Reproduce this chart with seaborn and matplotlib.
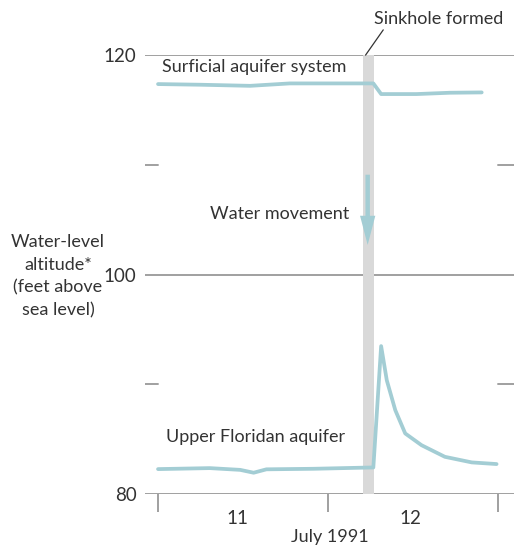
import matplotlib
matplotlib.use("Agg")
import matplotlib.pyplot as plt
import pandas as pd
import seaborn as sns

# horas desde el inicio del 11 de julio de 1991
surf_horas = [0, 6, 13, 18.6, 25, 30.4, 31.5, 36.5, 41.2, 45.7]
surf_nivel = [117.36, 117.3, 117.2, 117.42, 117.42, 117.42, 116.45, 116.45, 116.57, 116.6]

flor_horas = [0, 7.3, 11.6, 13.5, 15.3, 22, 28.9, 30.4, 31.5, 32.3, 33.5, 34.9, 37.2, 40.5, 44.3, 47.8]
flor_nivel = [82.27, 82.36, 82.2, 81.94, 82.25, 82.3, 82.4, 82.42, 93.48, 90.36, 87.64, 85.52,
              84.45, 83.39, 82.88, 82.73]

ticks_dias = [0, 24, 48]
etiquetas_dias = ["11", "12"]
pos_etiquetas = [11.2, 35.6]
sumidero = (28.9, 30.5)

df = pd.concat([
    pd.DataFrame({"hora": surf_horas, "nivel": surf_nivel, "serie": "Surficial aquifer system"}),
    pd.DataFrame({"hora": flor_horas, "nivel": flor_nivel, "serie": "Upper Floridan aquifer"}),
])

sns.set_style("white")
plt.rcParams['font.family'] = ['Lato', 'DejaVu Sans']
txt = "#333333"
gris = "#a0a0a0"
azul = "#a3cdd4"

fig = plt.figure(figsize=(5.14, 5.50), dpi=100)
ax = fig.add_axes([145 / 514, 0.1018, 1 - 145 / 514, 0.798])
x0, x1 = -1.84, 50.26
ax.set_xlim(x0, x1)
ax.set_ylim(80, 120)

for v in [80, 100, 120]:
    ax.axhline(v, color=gris, lw=1.4, zorder=1)
for v in [90, 110]:
    ax.plot([x0, 0], [v, v], color=gris, lw=1.4, zorder=1)
    ax.plot([48, x1], [v, v], color=gris, lw=1.4, zorder=1)

ax.axvspan(*sumidero, color="#d9d9d9", lw=0, zorder=2)

sns.lineplot(data=df, x="hora", y="nivel", units="serie", estimator=None,
             color=azul, lw=2.7, ax=ax, zorder=3, solid_capstyle="round")

# flecha del movimiento del agua
ax.annotate("", xy=(29.6, 102.7), xytext=(29.6, 109.1),
            arrowprops=dict(width=3.2, headwidth=11, headlength=21,
                            color=azul, lw=0, shrink=0), zorder=4)

for s in ax.spines.values():
    s.set_visible(False)
ax.set_xticks(ticks_dias)
ax.set_xticklabels([])
ax.tick_params(axis="x", bottom=True, direction="out", length=13, width=1.4, color=gris, pad=0)
ax.set_yticks([80, 100, 120])
ax.set_yticklabels(["80", "100", "120"], fontsize=13.5, color=txt)
ax.tick_params(axis="y", left=False, length=0, pad=6)
ax.set_xlabel("")
ax.set_ylabel("")
ax.grid(False)

for p, t in zip(pos_etiquetas, etiquetas_dias):
    ax.text(p, 77.8, t, ha="center", va="center", fontsize=13.5, color=txt, clip_on=False)
ax.text(24.3, 76.1, "July 1991", ha="center", va="center", fontsize=13, color=txt, clip_on=False)

ax.text(0.6, 118.9, "Surficial aquifer system", ha="left", va="center", fontsize=13, color=txt)
ax.text(1.1, 85.2, "Upper Floridan aquifer", ha="left", va="center", fontsize=13, color=txt)
ax.text(27.0, 105.5, "Water movement", ha="right", va="center", fontsize=13, color=txt)

ax.text(30.5, 123.3, "Sinkhole formed", ha="left", va="center", fontsize=13, color=txt, clip_on=False)
ax.annotate("", xy=(29.3, 120), xytext=(31.8, 122.3), annotation_clip=False,
            arrowprops=dict(arrowstyle="-", color=txt, lw=0.9, shrinkA=0, shrinkB=0))

fig.text(58 / 514, 1 - 276 / 550, "Water-level\naltitude*\n(feet above\nsea level)",
         ha="center", va="center", multialignment="center", fontsize=13, color=txt,
         linespacing=1.5)

fig.savefig("out.png", dpi=100)
